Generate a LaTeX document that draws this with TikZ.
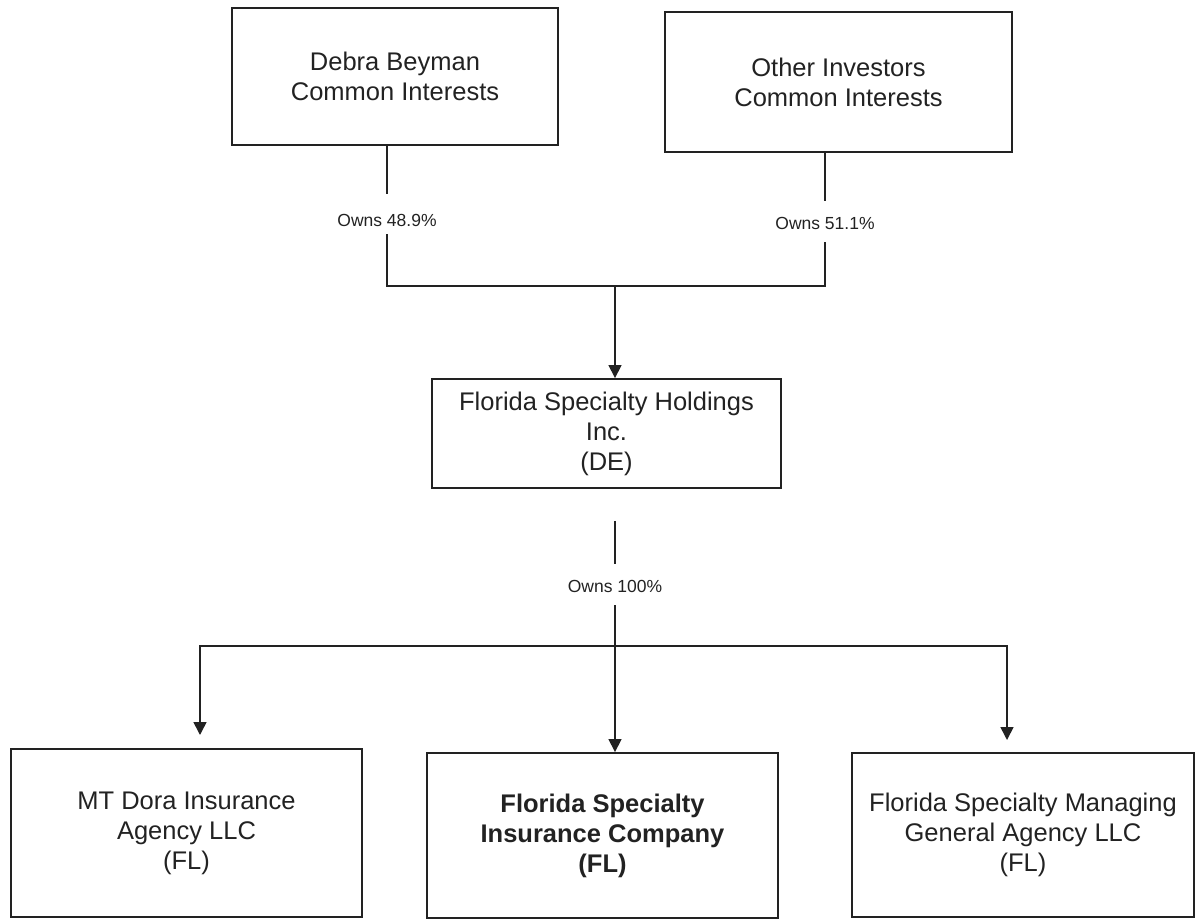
\documentclass[tikz,border=0pt]{standalone}
\usepackage{fontspec}
\setmainfont{Liberation Sans}
\usetikzlibrary{arrows.meta}
\definecolor{ink}{HTML}{222222}
\tikzset{
  entity/.style={draw=ink, line width=1.9pt, inner sep=0pt, align=center, text=ink,
    font=\fontsize{25.5}{30}\selectfont},
  owns/.style={inner sep=0pt, text=ink, font=\fontsize{17.5}{20}\selectfont},
  link/.style={draw=ink, line width=1.6pt},
  feed/.style={link, -{Triangle[length=13pt,width=13pt]}}
}
\begin{document}
\begin{tikzpicture}[x=1pt,y=-1pt]
\useasboundingbox (0,0) rectangle (1196,920);
\node[entity, minimum width=326, minimum height=137] (debra) at (395,76.5) {Debra Beyman\\Common Interests};
\node[entity, minimum width=347, minimum height=140] (others) at (838.5,82) {Other Investors\\Common Interests};
\node[entity, minimum width=349, minimum height=109] (holdings) at (606.5,433.5) {Florida Specialty Holdings\\Inc.\\(DE)};
\node[entity, minimum width=351, minimum height=168] (mtdora) at (186.5,833) {MT Dora Insurance\\Agency LLC\\(FL)};
\node[entity, minimum width=351, minimum height=165, font=\fontsize{25.5}{30}\selectfont\bfseries] (fsic) at (602.5,835.5) {Florida Specialty\\Insurance Company\\(FL)};
\node[entity, minimum width=342, minimum height=164] (fsmga) at (1023,835) {Florida Specialty Managing\\General Agency LLC\\(FL)};
\node[owns] (own1) at (387,220) {Owns 48.9\%};
\node[owns] (own2) at (825,223) {Owns 51.1\%};
\node[owns] (own3) at (615,586) {Owns 100\%};
\coordinate (top) at (615,286);
\coordinate (bot) at (615,646);
\coordinate (tip1) at (200,735);
\coordinate (tip3) at (1007,740);
\draw[link] (debra.south -| own1) -- ([yshift=20pt]own1.north);
\draw[link] (others.south -| own2) -- ([yshift=16pt]own2.north);
\draw[link] ([yshift=-8pt]own1.south) |- (top) -| ([yshift=-13pt]own2.south);
\draw[feed] (top) -- (top |- holdings.north);
\draw[link] ([yshift=-32pt]holdings.south -| own3) -- ([yshift=16pt]own3.north);
\draw[link] ([yshift=-13pt]own3.south) -- (bot);
\draw[feed] (bot) -| (tip1);
\draw[feed] (bot) -- (bot |- fsic.north);
\draw[feed] (bot) -| (tip3);
\end{tikzpicture}
\end{document}
